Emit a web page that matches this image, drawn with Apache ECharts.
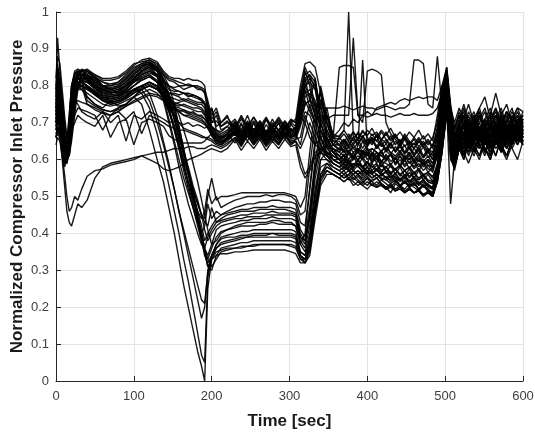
<!DOCTYPE html>
<html>
<head>
<meta charset="utf-8">
<script src="https://cdn.jsdelivr.net/npm/echarts@6/dist/echarts.min.js"></script>
<style>
html, body { margin: 0; padding: 0; background: #fff; }
#chart { width: 535px; height: 432px; }
</style>
</head>
<body>
<div id="chart"></div>
<script>
// time grid [sec], shared by every run
const time = [
  0, 2, 5, 8, 11, 14, 17, 20, 24, 28, 33,
  40, 50, 60, 70, 80, 90, 100, 110, 120, 130,
  138, 145, 152, 158, 164, 170, 176, 182, 187, 191, 195, 200, 206, 212,
  220, 230, 238, 246, 254, 262, 270, 278, 286, 294, 302,
  308, 314, 320, 326, 333, 340, 348, 356,
  364, 370, 376, 382, 388, 394, 400, 406, 412, 418, 424, 430, 436, 442, 448, 454, 460, 466, 472, 478, 484, 490,
  496, 502, 507, 512, 518, 524, 530, 537, 544, 551, 558, 565, 572, 579, 586, 593, 600
];

// normalized compressor inlet pressure, one array per run
// upper runs (stay high until ~195 s)
const u1 = [
  0.80, 0.93, 0.84, 0.74, 0.66, 0.63, 0.70, 0.80, 0.84, 0.845, 0.84,
  0.845, 0.83, 0.815, 0.815, 0.82, 0.835, 0.855, 0.87, 0.875, 0.865,
  0.84, 0.825, 0.82, 0.82, 0.815, 0.82, 0.815, 0.815, 0.81, 0.80, 0.74, 0.70, 0.705, 0.69,
  0.70, 0.69, 0.715, 0.685, 0.705, 0.68, 0.71, 0.69, 0.715, 0.69, 0.70,
  0.71, 0.80, 0.86, 0.865, 0.85, 0.78, 0.68, 0.64,
  0.625, 0.645, 0.615, 0.64, 0.62, 0.65, 0.625, 0.61, 0.64, 0.62, 0.645, 0.615, 0.635, 0.62, 0.64, 0.61, 0.63, 0.615, 0.635, 0.605, 0.62, 0.66,
  0.78, 0.84, 0.72, 0.66, 0.70, 0.72, 0.66, 0.70, 0.73, 0.68, 0.71, 0.67, 0.72, 0.69, 0.66, 0.70, 0.72
];
const u2 = [
  0.75, 0.78, 0.72, 0.66, 0.62, 0.64, 0.72, 0.80, 0.83, 0.84, 0.83,
  0.83, 0.82, 0.81, 0.80, 0.81, 0.83, 0.85, 0.86, 0.865, 0.85,
  0.81, 0.80, 0.795, 0.80, 0.79, 0.795, 0.80, 0.79, 0.79, 0.78, 0.73, 0.69, 0.68, 0.67,
  0.68, 0.705, 0.67, 0.70, 0.675, 0.70, 0.67, 0.695, 0.68, 0.70, 0.675,
  0.69, 0.77, 0.83, 0.84, 0.82, 0.72, 0.66, 0.63,
  0.61, 0.59, 0.625, 0.60, 0.63, 0.605, 0.59, 0.62, 0.60, 0.625, 0.595, 0.615, 0.59, 0.61, 0.595, 0.62, 0.59, 0.605, 0.585, 0.60, 0.58, 0.64,
  0.74, 0.82, 0.68, 0.64, 0.68, 0.66, 0.70, 0.65, 0.68, 0.71, 0.66, 0.69, 0.64, 0.68, 0.70, 0.66, 0.69
];
const u3 = [
  0.70, 0.72, 0.70, 0.65, 0.61, 0.60, 0.66, 0.76, 0.82, 0.835, 0.84,
  0.835, 0.825, 0.80, 0.79, 0.80, 0.82, 0.84, 0.855, 0.86, 0.84,
  0.80, 0.78, 0.78, 0.775, 0.78, 0.77, 0.775, 0.77, 0.76, 0.75, 0.71, 0.68, 0.66, 0.655,
  0.67, 0.69, 0.66, 0.695, 0.665, 0.69, 0.66, 0.69, 0.665, 0.685, 0.67,
  0.675, 0.74, 0.80, 0.82, 0.80, 0.70, 0.64, 0.62,
  0.60, 0.615, 0.59, 0.61, 0.585, 0.605, 0.62, 0.59, 0.61, 0.58, 0.60, 0.615, 0.585, 0.60, 0.58, 0.595, 0.575, 0.59, 0.57, 0.585, 0.565, 0.62,
  0.72, 0.80, 0.66, 0.62, 0.66, 0.70, 0.64, 0.68, 0.66, 0.70, 0.64, 0.67, 0.70, 0.65, 0.68, 0.71, 0.67
];
const u4 = [
  0.72, 0.76, 0.71, 0.64, 0.60, 0.62, 0.69, 0.78, 0.82, 0.83, 0.825,
  0.82, 0.80, 0.79, 0.785, 0.79, 0.80, 0.82, 0.84, 0.85, 0.83,
  0.79, 0.76, 0.75, 0.755, 0.76, 0.755, 0.75, 0.745, 0.74, 0.73, 0.70, 0.67, 0.65, 0.645,
  0.66, 0.685, 0.655, 0.69, 0.66, 0.685, 0.655, 0.68, 0.66, 0.69, 0.665,
  0.67, 0.72, 0.78, 0.79, 0.76, 0.68, 0.63, 0.64,
  0.66, 0.68, 1.00, 0.66, 0.64, 0.665, 0.635, 0.655, 0.63, 0.65, 0.625, 0.645, 0.62, 0.64, 0.615, 0.635, 0.61, 0.63, 0.605, 0.625, 0.60, 0.67,
  0.76, 0.83, 0.70, 0.63, 0.69, 0.65, 0.68, 0.72, 0.65, 0.69, 0.72, 0.66, 0.70, 0.73, 0.67, 0.69, 0.73
];
const u5 = [
  0.68, 0.70, 0.69, 0.63, 0.59, 0.61, 0.67, 0.77, 0.81, 0.82, 0.81,
  0.76, 0.745, 0.735, 0.73, 0.74, 0.75, 0.77, 0.79, 0.80, 0.79,
  0.78, 0.75, 0.74, 0.735, 0.73, 0.725, 0.72, 0.715, 0.71, 0.70, 0.69, 0.665, 0.645, 0.64,
  0.655, 0.68, 0.65, 0.685, 0.655, 0.68, 0.65, 0.675, 0.655, 0.68, 0.66,
  0.665, 0.70, 0.75, 0.76, 0.72, 0.66, 0.62, 0.60,
  0.59, 0.60, 0.615, 0.60, 0.64, 0.87, 0.63, 0.605, 0.62, 0.595, 0.61, 0.585, 0.605, 0.58, 0.60, 0.575, 0.595, 0.57, 0.59, 0.565, 0.58, 0.62,
  0.70, 0.80, 0.64, 0.60, 0.66, 0.62, 0.66, 0.70, 0.64, 0.62, 0.67, 0.70, 0.64, 0.61, 0.66, 0.69, 0.65
];
const u6 = [
  0.66, 0.68, 0.67, 0.62, 0.60, 0.63, 0.70, 0.79, 0.835, 0.84, 0.835,
  0.83, 0.81, 0.80, 0.79, 0.795, 0.81, 0.83, 0.845, 0.855, 0.84,
  0.80, 0.77, 0.765, 0.76, 0.765, 0.76, 0.755, 0.75, 0.75, 0.74, 0.71, 0.685, 0.67, 0.66,
  0.665, 0.70, 0.665, 0.70, 0.67, 0.695, 0.665, 0.69, 0.67, 0.695, 0.675,
  0.68, 0.72, 0.70, 0.66, 0.64, 0.63, 0.64, 0.66,
  0.85, 0.855, 0.855, 0.85, 0.72, 0.70, 0.84, 0.845, 0.84, 0.83, 0.70, 0.67, 0.655, 0.64, 0.66, 0.645, 0.63, 0.65, 0.635, 0.62, 0.64, 0.66,
  0.74, 0.81, 0.70, 0.64, 0.68, 0.72, 0.67, 0.64, 0.69, 0.66, 0.70, 0.74, 0.68, 0.65, 0.70, 0.68, 0.71
];
const u7 = [
  0.74, 0.80, 0.76, 0.67, 0.62, 0.61, 0.64, 0.72, 0.80, 0.83, 0.83,
  0.82, 0.805, 0.79, 0.78, 0.785, 0.80, 0.815, 0.83, 0.84, 0.825,
  0.785, 0.76, 0.745, 0.74, 0.735, 0.73, 0.725, 0.72, 0.715, 0.71, 0.695, 0.675, 0.655, 0.645,
  0.66, 0.675, 0.645, 0.68, 0.65, 0.675, 0.645, 0.67, 0.65, 0.675, 0.655,
  0.66, 0.70, 0.75, 0.76, 0.745, 0.74, 0.74, 0.74,
  0.74, 0.745, 0.74, 0.735, 0.74, 0.745, 0.74, 0.74, 0.735, 0.74, 0.745, 0.74, 0.735, 0.74, 0.74, 0.75, 0.87, 0.87, 0.86, 0.75, 0.74, 0.88,
  0.74, 0.84, 0.72, 0.66, 0.70, 0.67, 0.71, 0.68, 0.72, 0.66, 0.69, 0.72, 0.67, 0.70, 0.73, 0.69, 0.72
];
const u8 = [
  0.70, 0.74, 0.73, 0.66, 0.61, 0.60, 0.65, 0.74, 0.80, 0.82, 0.815,
  0.81, 0.795, 0.78, 0.775, 0.775, 0.785, 0.80, 0.815, 0.825, 0.81,
  0.775, 0.755, 0.75, 0.745, 0.75, 0.745, 0.74, 0.74, 0.735, 0.725, 0.70, 0.68, 0.665, 0.655,
  0.665, 0.69, 0.66, 0.69, 0.66, 0.69, 0.66, 0.685, 0.66, 0.69, 0.665,
  0.67, 0.73, 0.81, 0.83, 0.79, 0.70, 0.65, 0.66,
  0.68, 0.70, 0.69, 0.71, 0.70, 0.72, 0.73, 0.72, 0.74, 0.745, 0.75, 0.755, 0.75, 0.76, 0.765, 0.76, 0.765, 0.77, 0.765, 0.77, 0.77, 0.76,
  0.80, 0.83, 0.74, 0.68, 0.72, 0.69, 0.66, 0.71, 0.74, 0.69, 0.72, 0.78, 0.72, 0.68, 0.71, 0.74, 0.70
];
const u9 = [
  0.78, 0.86, 0.80, 0.70, 0.64, 0.62, 0.68, 0.77, 0.81, 0.825, 0.82,
  0.77, 0.75, 0.735, 0.73, 0.735, 0.745, 0.755, 0.765, 0.775, 0.77,
  0.76, 0.74, 0.735, 0.73, 0.72, 0.715, 0.71, 0.705, 0.70, 0.695, 0.685, 0.665, 0.65, 0.645,
  0.655, 0.67, 0.64, 0.675, 0.645, 0.67, 0.64, 0.665, 0.645, 0.67, 0.65,
  0.655, 0.69, 0.73, 0.72, 0.68, 0.64, 0.61, 0.60,
  0.60, 0.58, 0.595, 0.575, 0.60, 0.58, 0.56, 0.59, 0.57, 0.595, 0.565, 0.585, 0.56, 0.58, 0.555, 0.575, 0.55, 0.57, 0.545, 0.56, 0.54, 0.58,
  0.68, 0.79, 0.65, 0.61, 0.67, 0.71, 0.66, 0.69, 0.73, 0.67, 0.63, 0.68, 0.72, 0.66, 0.69, 0.65, 0.69
];
const u10 = [
  0.69, 0.72, 0.69, 0.64, 0.62, 0.65, 0.72, 0.80, 0.83, 0.84, 0.84,
  0.83, 0.815, 0.80, 0.795, 0.80, 0.815, 0.835, 0.85, 0.86, 0.845,
  0.815, 0.80, 0.79, 0.785, 0.78, 0.78, 0.775, 0.77, 0.765, 0.755, 0.72, 0.69, 0.675, 0.665,
  0.675, 0.70, 0.675, 0.705, 0.68, 0.705, 0.675, 0.70, 0.68, 0.705, 0.68,
  0.685, 0.75, 0.82, 0.83, 0.81, 0.74, 0.67, 0.64,
  0.64, 0.655, 0.635, 0.66, 0.64, 0.665, 0.645, 0.66, 0.635, 0.655, 0.645, 0.665, 0.64, 0.655, 0.635, 0.65, 0.63, 0.655, 0.635, 0.65, 0.63, 0.68,
  0.77, 0.82, 0.71, 0.66, 0.70, 0.74, 0.69, 0.66, 0.70, 0.73, 0.68, 0.71, 0.74, 0.69, 0.66, 0.71, 0.68
];
const u11 = [
  0.72, 0.75, 0.80, 0.76, 0.70, 0.66, 0.64, 0.70, 0.78, 0.80, 0.79,
  0.77, 0.75, 0.74, 0.76, 0.745, 0.75, 0.77, 0.79, 0.80, 0.79,
  0.77, 0.75, 0.74, 0.73, 0.735, 0.725, 0.73, 0.72, 0.72, 0.71, 0.70, 0.74, 0.69, 0.70,
  0.72, 0.665, 0.70, 0.66, 0.70, 0.665, 0.71, 0.67, 0.70, 0.66, 0.70,
  0.69, 0.76, 0.84, 0.80, 0.72, 0.79, 0.70, 0.66,
  0.655, 0.67, 0.65, 0.675, 0.655, 0.68, 0.66, 0.645, 0.67, 0.65, 0.675, 0.655, 0.67, 0.645, 0.665, 0.64, 0.66, 0.645, 0.665, 0.64, 0.66, 0.70,
  0.79, 0.85, 0.75, 0.68, 0.73, 0.69, 0.72, 0.67, 0.71, 0.74, 0.69, 0.72, 0.68, 0.73, 0.70, 0.67, 0.71
];
const u12 = [
  0.82, 0.88, 0.86, 0.79, 0.72, 0.66, 0.62, 0.66, 0.74, 0.80, 0.83,
  0.84, 0.82, 0.80, 0.79, 0.78, 0.79, 0.81, 0.82, 0.83, 0.81,
  0.79, 0.78, 0.775, 0.77, 0.76, 0.765, 0.76, 0.755, 0.755, 0.75, 0.745, 0.70, 0.72, 0.68,
  0.69, 0.71, 0.68, 0.72, 0.675, 0.705, 0.67, 0.71, 0.675, 0.705, 0.68,
  0.68, 0.78, 0.85, 0.82, 0.74, 0.69, 0.72, 0.65,
  0.65, 0.635, 0.66, 0.64, 0.655, 0.63, 0.655, 0.64, 0.665, 0.635, 0.655, 0.63, 0.65, 0.635, 0.655, 0.63, 0.645, 0.625, 0.645, 0.62, 0.64, 0.67,
  0.76, 0.84, 0.73, 0.67, 0.71, 0.75, 0.70, 0.67, 0.72, 0.69, 0.73, 0.70, 0.66, 0.71, 0.74, 0.68, 0.70
];
const u13 = [
  0.77, 0.82, 0.79, 0.72, 0.65, 0.61, 0.63, 0.70, 0.77, 0.82, 0.84,
  0.84, 0.83, 0.82, 0.82, 0.825, 0.84, 0.86, 0.865, 0.87, 0.855,
  0.83, 0.815, 0.81, 0.80, 0.80, 0.805, 0.80, 0.80, 0.795, 0.79, 0.76, 0.72, 0.74, 0.70,
  0.715, 0.685, 0.72, 0.69, 0.715, 0.69, 0.715, 0.685, 0.71, 0.685, 0.71,
  0.70, 0.78, 0.82, 0.76, 0.82, 0.70, 0.74, 0.66,
  0.665, 0.68, 0.66, 0.675, 0.655, 0.675, 0.665, 0.685, 0.66, 0.68, 0.665, 0.685, 0.66, 0.675, 0.655, 0.675, 0.66, 0.68, 0.655, 0.67, 0.65, 0.72,
  0.80, 0.85, 0.74, 0.70, 0.74, 0.71, 0.75, 0.70, 0.74, 0.77, 0.71, 0.74, 0.70, 0.73, 0.71, 0.74, 0.73
];
const u14 = [
  0.74, 0.79, 0.82, 0.77, 0.69, 0.63, 0.61, 0.65, 0.72, 0.79, 0.83,
  0.83, 0.815, 0.80, 0.80, 0.805, 0.82, 0.84, 0.855, 0.865, 0.85,
  0.82, 0.79, 0.785, 0.785, 0.78, 0.775, 0.77, 0.765, 0.76, 0.75, 0.72, 0.74, 0.68, 0.675,
  0.69, 0.665, 0.695, 0.67, 0.70, 0.665, 0.695, 0.67, 0.70, 0.665, 0.695,
  0.68, 0.74, 0.79, 0.74, 0.70, 0.75, 0.66, 0.62,
  0.61, 0.625, 0.60, 0.62, 0.595, 0.625, 0.60, 0.615, 0.59, 0.62, 0.60, 0.615, 0.59, 0.61, 0.585, 0.605, 0.58, 0.60, 0.58, 0.595, 0.575, 0.61,
  0.72, 0.83, 0.68, 0.63, 0.68, 0.65, 0.69, 0.72, 0.67, 0.64, 0.69, 0.66, 0.71, 0.67, 0.70, 0.67, 0.70
];
const u15 = [
  0.79, 0.85, 0.83, 0.75, 0.67, 0.63, 0.65, 0.73, 0.80, 0.835, 0.845,
  0.84, 0.825, 0.81, 0.805, 0.81, 0.825, 0.845, 0.86, 0.87, 0.86,
  0.835, 0.82, 0.815, 0.81, 0.805, 0.80, 0.80, 0.795, 0.79, 0.785, 0.75, 0.71, 0.73, 0.69,
  0.705, 0.68, 0.71, 0.685, 0.715, 0.68, 0.71, 0.685, 0.705, 0.68, 0.705,
  0.70, 0.75, 0.80, 0.81, 0.79, 0.76, 0.72, 0.67,
  0.66, 0.645, 0.67, 0.65, 0.675, 0.655, 0.645, 0.67, 0.65, 0.675, 0.655, 0.64, 0.665, 0.645, 0.67, 0.65, 0.64, 0.66, 0.64, 0.655, 0.635, 0.69,
  0.79, 0.84, 0.73, 0.69, 0.72, 0.69, 0.73, 0.70, 0.66, 0.71, 0.74, 0.69, 0.72, 0.75, 0.70, 0.72, 0.69
];
const u16 = [
  0.73, 0.78, 0.74, 0.67, 0.62, 0.61, 0.65, 0.73, 0.79, 0.81, 0.80,
  0.75, 0.735, 0.725, 0.72, 0.73, 0.745, 0.76, 0.77, 0.78, 0.775,
  0.77, 0.745, 0.735, 0.73, 0.72, 0.72, 0.715, 0.71, 0.705, 0.70, 0.685, 0.67, 0.655, 0.65,
  0.66, 0.68, 0.655, 0.685, 0.66, 0.685, 0.655, 0.68, 0.66, 0.685, 0.66,
  0.67, 0.72, 0.76, 0.73, 0.70, 0.72, 0.71, 0.72,
  0.72, 0.72, 0.72, 0.93, 0.72, 0.72, 0.715, 0.72, 0.725, 0.72, 0.72, 0.715, 0.72, 0.725, 0.72, 0.72, 0.725, 0.72, 0.72, 0.72, 0.725, 0.74,
  0.78, 0.83, 0.70, 0.65, 0.70, 0.67, 0.71, 0.68, 0.72, 0.69, 0.66, 0.70, 0.73, 0.68, 0.72, 0.69, 0.71
];
const u17 = [
  0.72, 0.74, 0.73, 0.68, 0.64, 0.63, 0.67, 0.75, 0.80, 0.82, 0.82,
  0.815, 0.80, 0.785, 0.775, 0.78, 0.795, 0.815, 0.83, 0.84, 0.825,
  0.79, 0.765, 0.755, 0.75, 0.745, 0.74, 0.735, 0.73, 0.73, 0.72, 0.70, 0.69, 0.67, 0.66,
  0.67, 0.695, 0.665, 0.695, 0.665, 0.695, 0.665, 0.69, 0.665, 0.695, 0.67,
  0.675, 0.74, 0.80, 0.77, 0.72, 0.66, 0.68, 0.64,
  0.64, 0.625, 0.65, 0.63, 0.645, 0.62, 0.64, 0.655, 0.63, 0.645, 0.62, 0.64, 0.625, 0.645, 0.62, 0.64, 0.615, 0.635, 0.61, 0.63, 0.61, 0.66,
  0.75, 0.84, 0.71, 0.66, 0.70, 0.73, 0.68, 0.71, 0.68, 0.65, 0.70, 0.73, 0.69, 0.72, 0.68, 0.71, 0.67
];

// lower runs (fall to the 0.36-0.51 plateau)
const l1 = [
  0.76, 0.82, 0.78, 0.69, 0.63, 0.61, 0.66, 0.75, 0.80, 0.82, 0.82,
  0.82, 0.80, 0.785, 0.78, 0.785, 0.80, 0.82, 0.84, 0.85, 0.84,
  0.80, 0.74, 0.68, 0.63, 0.58, 0.54, 0.50, 0.46, 0.44, 0.46, 0.52, 0.48, 0.50, 0.47,
  0.48, 0.49, 0.495, 0.50, 0.50, 0.50, 0.505, 0.50, 0.505, 0.505, 0.50,
  0.49, 0.45, 0.46, 0.58, 0.70, 0.76, 0.70, 0.64,
  0.63, 0.65, 0.64, 0.66, 0.67, 0.66, 0.68, 0.665, 0.675, 0.655, 0.67, 0.65, 0.665, 0.645, 0.66, 0.64, 0.655, 0.635, 0.65, 0.63, 0.62, 0.64,
  0.74, 0.82, 0.69, 0.64, 0.68, 0.65, 0.70, 0.67, 0.64, 0.69, 0.72, 0.66, 0.69, 0.64, 0.68, 0.71, 0.66
];
const l2 = [
  0.72, 0.75, 0.72, 0.66, 0.61, 0.60, 0.65, 0.74, 0.80, 0.82, 0.815,
  0.81, 0.795, 0.78, 0.77, 0.775, 0.79, 0.81, 0.83, 0.84, 0.83,
  0.77, 0.71, 0.65, 0.60, 0.55, 0.51, 0.47, 0.43, 0.40, 0.42, 0.48, 0.44, 0.46, 0.45,
  0.46, 0.47, 0.475, 0.48, 0.48, 0.485, 0.485, 0.49, 0.49, 0.485, 0.485,
  0.48, 0.43, 0.42, 0.52, 0.66, 0.80, 0.72, 0.66,
  0.64, 0.62, 0.625, 0.605, 0.62, 0.60, 0.615, 0.595, 0.61, 0.59, 0.615, 0.595, 0.605, 0.585, 0.61, 0.59, 0.60, 0.58, 0.595, 0.575, 0.57, 0.61,
  0.71, 0.80, 0.66, 0.62, 0.67, 0.64, 0.62, 0.66, 0.69, 0.65, 0.62, 0.67, 0.64, 0.61, 0.65, 0.69, 0.66
];
const l3 = [
  0.68, 0.71, 0.69, 0.63, 0.60, 0.62, 0.68, 0.77, 0.82, 0.835, 0.83,
  0.825, 0.81, 0.795, 0.79, 0.795, 0.81, 0.83, 0.85, 0.86, 0.85,
  0.82, 0.77, 0.71, 0.66, 0.61, 0.56, 0.51, 0.46, 0.42, 0.38, 0.40, 0.42, 0.44, 0.45,
  0.455, 0.46, 0.465, 0.465, 0.47, 0.47, 0.47, 0.475, 0.47, 0.47, 0.47,
  0.465, 0.41, 0.39, 0.47, 0.60, 0.68, 0.64, 0.62,
  0.60, 0.61, 0.595, 0.585, 0.60, 0.58, 0.595, 0.57, 0.585, 0.565, 0.58, 0.56, 0.575, 0.555, 0.57, 0.55, 0.565, 0.545, 0.56, 0.54, 0.535, 0.58,
  0.66, 0.76, 0.65, 0.63, 0.67, 0.64, 0.68, 0.65, 0.69, 0.64, 0.67, 0.70, 0.65, 0.69, 0.66, 0.70, 0.67
];
const l4 = [
  0.74, 0.78, 0.74, 0.67, 0.62, 0.61, 0.64, 0.72, 0.79, 0.81, 0.81,
  0.80, 0.785, 0.77, 0.765, 0.77, 0.78, 0.80, 0.815, 0.825, 0.81,
  0.76, 0.70, 0.64, 0.58, 0.53, 0.48, 0.44, 0.40, 0.37, 0.36, 0.39, 0.41, 0.43, 0.435,
  0.44, 0.445, 0.45, 0.45, 0.455, 0.455, 0.455, 0.46, 0.455, 0.455, 0.455,
  0.45, 0.39, 0.37, 0.44, 0.57, 0.64, 0.62, 0.60,
  0.59, 0.575, 0.59, 0.57, 0.585, 0.565, 0.58, 0.56, 0.575, 0.555, 0.57, 0.55, 0.565, 0.545, 0.56, 0.54, 0.555, 0.535, 0.545, 0.53, 0.525, 0.57,
  0.68, 0.74, 0.48, 0.60, 0.65, 0.69, 0.63, 0.67, 0.64, 0.61, 0.66, 0.69, 0.63, 0.67, 0.70, 0.65, 0.68
];
const l5 = [
  0.66, 0.69, 0.68, 0.62, 0.58, 0.60, 0.67, 0.76, 0.81, 0.83, 0.83,
  0.82, 0.80, 0.79, 0.78, 0.785, 0.80, 0.82, 0.84, 0.855, 0.845,
  0.83, 0.80, 0.75, 0.69, 0.63, 0.57, 0.51, 0.45, 0.40, 0.36, 0.34, 0.37, 0.41, 0.42,
  0.425, 0.43, 0.435, 0.435, 0.44, 0.44, 0.44, 0.445, 0.44, 0.44, 0.44,
  0.435, 0.38, 0.36, 0.42, 0.55, 0.62, 0.61, 0.59,
  0.58, 0.59, 0.575, 0.56, 0.57, 0.555, 0.565, 0.55, 0.56, 0.545, 0.555, 0.54, 0.55, 0.53, 0.545, 0.525, 0.54, 0.52, 0.535, 0.515, 0.51, 0.56,
  0.64, 0.75, 0.60, 0.58, 0.63, 0.66, 0.61, 0.65, 0.68, 0.62, 0.65, 0.61, 0.66, 0.69, 0.64, 0.67, 0.65
];
const l6 = [
  0.71, 0.74, 0.71, 0.65, 0.60, 0.59, 0.63, 0.71, 0.78, 0.80, 0.80,
  0.79, 0.775, 0.76, 0.755, 0.76, 0.77, 0.79, 0.80, 0.81, 0.80,
  0.77, 0.73, 0.68, 0.63, 0.57, 0.52, 0.47, 0.42, 0.38, 0.35, 0.33, 0.36, 0.39, 0.405,
  0.41, 0.415, 0.42, 0.42, 0.42, 0.425, 0.425, 0.43, 0.425, 0.425, 0.425,
  0.42, 0.37, 0.35, 0.40, 0.52, 0.60, 0.60, 0.58,
  0.57, 0.56, 0.57, 0.55, 0.56, 0.545, 0.555, 0.54, 0.55, 0.535, 0.525, 0.51, 0.535, 0.525, 0.54, 0.53, 0.535, 0.52, 0.53, 0.515, 0.505, 0.55,
  0.66, 0.77, 0.64, 0.61, 0.66, 0.63, 0.67, 0.64, 0.61, 0.66, 0.70, 0.65, 0.62, 0.67, 0.64, 0.68, 0.66
];
const l7 = [
  0.77, 0.84, 0.80, 0.70, 0.63, 0.60, 0.64, 0.73, 0.80, 0.82, 0.82,
  0.815, 0.795, 0.775, 0.765, 0.77, 0.785, 0.80, 0.82, 0.83, 0.815,
  0.79, 0.76, 0.71, 0.65, 0.59, 0.53, 0.48, 0.43, 0.38, 0.34, 0.32, 0.34, 0.37, 0.39,
  0.395, 0.40, 0.405, 0.405, 0.41, 0.41, 0.41, 0.41, 0.41, 0.41, 0.41,
  0.405, 0.35, 0.34, 0.38, 0.50, 0.58, 0.59, 0.57,
  0.56, 0.57, 0.55, 0.56, 0.545, 0.535, 0.55, 0.54, 0.53, 0.545, 0.535, 0.525, 0.54, 0.53, 0.52, 0.535, 0.525, 0.515, 0.53, 0.52, 0.51, 0.54,
  0.62, 0.73, 0.63, 0.59, 0.64, 0.61, 0.66, 0.63, 0.67, 0.63, 0.60, 0.65, 0.68, 0.63, 0.66, 0.69, 0.65
];
const l8 = [
  0.73, 0.77, 0.73, 0.66, 0.61, 0.62, 0.69, 0.78, 0.82, 0.83, 0.825,
  0.82, 0.805, 0.79, 0.78, 0.785, 0.80, 0.82, 0.835, 0.845, 0.83,
  0.80, 0.77, 0.73, 0.68, 0.62, 0.56, 0.50, 0.44, 0.39, 0.35, 0.31, 0.33, 0.36, 0.375,
  0.38, 0.385, 0.39, 0.39, 0.395, 0.395, 0.395, 0.40, 0.395, 0.395, 0.395,
  0.39, 0.34, 0.33, 0.37, 0.48, 0.56, 0.58, 0.57,
  0.56, 0.55, 0.56, 0.545, 0.555, 0.54, 0.53, 0.545, 0.55, 0.535, 0.525, 0.535, 0.52, 0.53, 0.515, 0.525, 0.51, 0.52, 0.505, 0.515, 0.50, 0.55,
  0.64, 0.74, 0.62, 0.58, 0.63, 0.60, 0.64, 0.61, 0.65, 0.69, 0.63, 0.66, 0.62, 0.65, 0.68, 0.64, 0.67
];
const l9 = [
  0.69, 0.71, 0.70, 0.64, 0.60, 0.61, 0.66, 0.75, 0.81, 0.83, 0.83,
  0.825, 0.81, 0.795, 0.785, 0.79, 0.805, 0.825, 0.84, 0.85, 0.84,
  0.81, 0.78, 0.74, 0.69, 0.63, 0.57, 0.51, 0.45, 0.40, 0.35, 0.31, 0.30, 0.34, 0.36,
  0.365, 0.37, 0.375, 0.375, 0.38, 0.38, 0.38, 0.38, 0.38, 0.38, 0.38,
  0.375, 0.33, 0.32, 0.35, 0.46, 0.55, 0.57, 0.56,
  0.55, 0.56, 0.545, 0.55, 0.54, 0.53, 0.54, 0.53, 0.525, 0.535, 0.52, 0.53, 0.515, 0.525, 0.51, 0.52, 0.51, 0.515, 0.505, 0.51, 0.50, 0.55,
  0.63, 0.72, 0.63, 0.59, 0.65, 0.62, 0.59, 0.63, 0.66, 0.62, 0.65, 0.68, 0.63, 0.61, 0.65, 0.67, 0.64
];
const l10 = [
  0.79, 0.83, 0.81, 0.73, 0.66, 0.62, 0.61, 0.67, 0.75, 0.79, 0.80,
  0.79, 0.78, 0.76, 0.75, 0.755, 0.765, 0.78, 0.79, 0.80, 0.79,
  0.78, 0.77, 0.75, 0.72, 0.68, 0.64, 0.59, 0.54, 0.49, 0.45, 0.41, 0.37, 0.38, 0.40,
  0.41, 0.42, 0.425, 0.43, 0.43, 0.43, 0.43, 0.435, 0.435, 0.43, 0.43,
  0.42, 0.37, 0.40, 0.52, 0.64, 0.70, 0.65, 0.62,
  0.61, 0.60, 0.62, 0.61, 0.60, 0.615, 0.62, 0.60, 0.61, 0.595, 0.59, 0.58, 0.575, 0.585, 0.57, 0.58, 0.565, 0.575, 0.56, 0.565, 0.555, 0.58,
  0.69, 0.79, 0.65, 0.61, 0.66, 0.63, 0.67, 0.70, 0.65, 0.68, 0.64, 0.69, 0.66, 0.63, 0.67, 0.70, 0.66
];
const l11 = [
  0.73, 0.76, 0.75, 0.70, 0.64, 0.60, 0.62, 0.70, 0.78, 0.81, 0.81,
  0.80, 0.78, 0.765, 0.755, 0.76, 0.77, 0.79, 0.80, 0.81, 0.80,
  0.78, 0.76, 0.72, 0.67, 0.62, 0.57, 0.52, 0.48, 0.45, 0.44, 0.50, 0.55, 0.49, 0.50,
  0.50, 0.505, 0.51, 0.51, 0.51, 0.51, 0.51, 0.51, 0.51, 0.51, 0.505,
  0.50, 0.47, 0.50, 0.62, 0.74, 0.78, 0.70, 0.65,
  0.64, 0.655, 0.63, 0.645, 0.66, 0.65, 0.64, 0.66, 0.65, 0.64, 0.63, 0.645, 0.62, 0.635, 0.615, 0.63, 0.61, 0.625, 0.605, 0.62, 0.60, 0.64,
  0.75, 0.83, 0.70, 0.65, 0.69, 0.72, 0.67, 0.70, 0.66, 0.71, 0.68, 0.72, 0.69, 0.66, 0.70, 0.73, 0.69
];
const l12 = [
  0.76, 0.79, 0.77, 0.70, 0.63, 0.60, 0.61, 0.68, 0.76, 0.80, 0.81,
  0.81, 0.79, 0.775, 0.77, 0.775, 0.79, 0.81, 0.825, 0.835, 0.825,
  0.79, 0.74, 0.69, 0.64, 0.60, 0.56, 0.52, 0.48, 0.45, 0.43, 0.42, 0.47, 0.43, 0.44,
  0.45, 0.455, 0.46, 0.46, 0.46, 0.465, 0.465, 0.465, 0.465, 0.465, 0.46,
  0.455, 0.40, 0.38, 0.45, 0.58, 0.66, 0.63, 0.61,
  0.60, 0.59, 0.60, 0.58, 0.59, 0.58, 0.595, 0.58, 0.59, 0.57, 0.58, 0.565, 0.575, 0.56, 0.57, 0.555, 0.565, 0.55, 0.56, 0.545, 0.54, 0.58,
  0.68, 0.78, 0.63, 0.59, 0.64, 0.61, 0.65, 0.62, 0.67, 0.63, 0.60, 0.65, 0.62, 0.66, 0.63, 0.60, 0.65
];
const l13 = [
  0.68, 0.70, 0.70, 0.66, 0.62, 0.60, 0.63, 0.70, 0.77, 0.80, 0.81,
  0.80, 0.78, 0.76, 0.755, 0.76, 0.77, 0.785, 0.80, 0.81, 0.795,
  0.77, 0.73, 0.69, 0.64, 0.59, 0.54, 0.49, 0.44, 0.40, 0.36, 0.33, 0.31, 0.33, 0.35,
  0.355, 0.36, 0.36, 0.365, 0.37, 0.37, 0.37, 0.37, 0.37, 0.37, 0.37,
  0.365, 0.34, 0.32, 0.36, 0.46, 0.54, 0.57, 0.56,
  0.55, 0.54, 0.55, 0.53, 0.54, 0.53, 0.52, 0.535, 0.525, 0.53, 0.52, 0.525, 0.515, 0.52, 0.51, 0.52, 0.51, 0.515, 0.505, 0.51, 0.50, 0.54,
  0.62, 0.73, 0.61, 0.58, 0.63, 0.60, 0.65, 0.62, 0.66, 0.63, 0.61, 0.66, 0.64, 0.67, 0.63, 0.66, 0.64
];
const l14 = [
  0.70, 0.74, 0.74, 0.69, 0.63, 0.61, 0.62, 0.69, 0.77, 0.80, 0.80,
  0.795, 0.775, 0.76, 0.75, 0.755, 0.765, 0.78, 0.795, 0.805, 0.79,
  0.77, 0.75, 0.71, 0.67, 0.62, 0.58, 0.53, 0.49, 0.45, 0.41, 0.38, 0.40, 0.42, 0.43,
  0.435, 0.44, 0.44, 0.445, 0.445, 0.445, 0.45, 0.45, 0.45, 0.45, 0.45,
  0.445, 0.39, 0.38, 0.45, 0.58, 0.63, 0.61, 0.59,
  0.58, 0.57, 0.58, 0.57, 0.56, 0.57, 0.56, 0.55, 0.56, 0.55, 0.545, 0.535, 0.545, 0.53, 0.54, 0.525, 0.535, 0.52, 0.53, 0.515, 0.51, 0.55,
  0.66, 0.76, 0.64, 0.61, 0.66, 0.63, 0.67, 0.70, 0.65, 0.68, 0.64, 0.67, 0.65, 0.68, 0.71, 0.66, 0.68
];

// deepest runs (dip towards 0 near 190 s)
const d1 = [
  0.70, 0.73, 0.70, 0.64, 0.60, 0.59, 0.62, 0.70, 0.77, 0.79, 0.79,
  0.78, 0.765, 0.75, 0.745, 0.75, 0.76, 0.77, 0.75, 0.68, 0.60,
  0.54, 0.47, 0.40, 0.33, 0.26, 0.20, 0.14, 0.08, 0.04, 0.00, 0.25, 0.33, 0.35, 0.355,
  0.36, 0.36, 0.365, 0.365, 0.365, 0.37, 0.37, 0.37, 0.37, 0.37, 0.365,
  0.36, 0.33, 0.33, 0.36, 0.46, 0.55, 0.58, 0.57,
  0.56, 0.55, 0.56, 0.57, 0.56, 0.55, 0.56, 0.57, 0.56, 0.55, 0.545, 0.555, 0.54, 0.55, 0.535, 0.545, 0.53, 0.54, 0.525, 0.535, 0.52, 0.56,
  0.65, 0.76, 0.64, 0.60, 0.66, 0.63, 0.67, 0.64, 0.61, 0.65, 0.69, 0.64, 0.67, 0.63, 0.66, 0.70, 0.66
];
const d2 = [
  0.67, 0.69, 0.67, 0.62, 0.59, 0.61, 0.67, 0.76, 0.80, 0.81, 0.81,
  0.80, 0.785, 0.77, 0.765, 0.77, 0.78, 0.79, 0.78, 0.74, 0.67,
  0.60, 0.53, 0.46, 0.40, 0.33, 0.27, 0.20, 0.13, 0.07, 0.05, 0.28, 0.33, 0.34, 0.345,
  0.345, 0.35, 0.35, 0.352, 0.355, 0.355, 0.355, 0.355, 0.355, 0.355, 0.35,
  0.345, 0.32, 0.32, 0.34, 0.44, 0.53, 0.56, 0.56,
  0.55, 0.54, 0.55, 0.54, 0.53, 0.54, 0.55, 0.53, 0.54, 0.53, 0.52, 0.53, 0.515, 0.525, 0.51, 0.52, 0.51, 0.515, 0.50, 0.51, 0.50, 0.54,
  0.62, 0.74, 0.61, 0.57, 0.63, 0.67, 0.62, 0.65, 0.63, 0.67, 0.64, 0.61, 0.66, 0.69, 0.64, 0.67, 0.65
];
const d3 = [
  0.75, 0.80, 0.77, 0.68, 0.62, 0.60, 0.63, 0.71, 0.78, 0.80, 0.80,
  0.795, 0.78, 0.765, 0.76, 0.765, 0.775, 0.79, 0.80, 0.78, 0.72,
  0.65, 0.59, 0.52, 0.46, 0.40, 0.34, 0.28, 0.22, 0.17, 0.20, 0.30, 0.34, 0.37, 0.385,
  0.39, 0.39, 0.395, 0.395, 0.40, 0.40, 0.40, 0.40, 0.40, 0.40, 0.40,
  0.395, 0.35, 0.34, 0.39, 0.50, 0.60, 0.62, 0.60,
  0.59, 0.60, 0.58, 0.59, 0.58, 0.57, 0.58, 0.565, 0.57, 0.56, 0.565, 0.55, 0.56, 0.545, 0.555, 0.54, 0.55, 0.535, 0.545, 0.53, 0.525, 0.57,
  0.67, 0.78, 0.63, 0.59, 0.64, 0.61, 0.66, 0.63, 0.60, 0.65, 0.62, 0.66, 0.63, 0.60, 0.64, 0.68, 0.64
];
const d4 = [
  0.71, 0.73, 0.72, 0.66, 0.61, 0.60, 0.64, 0.72, 0.79, 0.81, 0.81,
  0.80, 0.785, 0.77, 0.76, 0.765, 0.775, 0.79, 0.79, 0.76, 0.70,
  0.64, 0.58, 0.52, 0.46, 0.41, 0.36, 0.31, 0.26, 0.22, 0.21, 0.29, 0.34, 0.36, 0.37,
  0.375, 0.38, 0.385, 0.39, 0.39, 0.39, 0.39, 0.39, 0.39, 0.39, 0.39,
  0.385, 0.34, 0.33, 0.37, 0.47, 0.56, 0.59, 0.58,
  0.57, 0.58, 0.57, 0.56, 0.57, 0.56, 0.57, 0.56, 0.55, 0.56, 0.55, 0.545, 0.555, 0.54, 0.55, 0.535, 0.545, 0.53, 0.54, 0.525, 0.52, 0.56,
  0.65, 0.75, 0.63, 0.60, 0.64, 0.67, 0.63, 0.66, 0.69, 0.64, 0.67, 0.63, 0.65, 0.69, 0.65, 0.68, 0.66
];

// runs that sit low (0.55-0.72) between 30 and 200 s
const m1 = [
  0.66, 0.68, 0.66, 0.60, 0.53, 0.46, 0.43, 0.42, 0.45, 0.48, 0.47,
  0.49, 0.55, 0.58, 0.59, 0.595, 0.60, 0.605, 0.61, 0.615, 0.62,
  0.62, 0.625, 0.63, 0.63, 0.63, 0.635, 0.635, 0.63, 0.63, 0.63, 0.635, 0.64, 0.635, 0.63,
  0.64, 0.66, 0.635, 0.665, 0.64, 0.66, 0.635, 0.655, 0.64, 0.665, 0.645,
  0.65, 0.60, 0.56, 0.58, 0.62, 0.63, 0.62, 0.61,
  0.60, 0.61, 0.59, 0.60, 0.61, 0.60, 0.58, 0.595, 0.60, 0.585, 0.58, 0.59, 0.57, 0.585, 0.57, 0.58, 0.56, 0.575, 0.555, 0.565, 0.55, 0.59,
  0.69, 0.79, 0.64, 0.60, 0.65, 0.69, 0.64, 0.67, 0.70, 0.66, 0.63, 0.68, 0.71, 0.66, 0.69, 0.65, 0.68
];
const m2 = [
  0.64, 0.66, 0.65, 0.61, 0.56, 0.50, 0.46, 0.47, 0.50, 0.49, 0.52,
  0.555, 0.57, 0.575, 0.585, 0.59, 0.595, 0.60, 0.61, 0.60, 0.59,
  0.575, 0.57, 0.575, 0.58, 0.59, 0.60, 0.605, 0.61, 0.615, 0.62, 0.625, 0.63, 0.625, 0.62,
  0.63, 0.655, 0.625, 0.65, 0.63, 0.655, 0.625, 0.65, 0.63, 0.655, 0.635,
  0.64, 0.58, 0.55, 0.57, 0.61, 0.62, 0.60, 0.59,
  0.58, 0.59, 0.57, 0.58, 0.59, 0.58, 0.57, 0.56, 0.575, 0.565, 0.55, 0.56, 0.55, 0.545, 0.555, 0.54, 0.55, 0.535, 0.545, 0.53, 0.52, 0.56,
  0.66, 0.77, 0.63, 0.59, 0.65, 0.61, 0.65, 0.69, 0.63, 0.66, 0.61, 0.65, 0.63, 0.67, 0.64, 0.68, 0.66
];
const m3 = [
  0.71, 0.74, 0.71, 0.65, 0.61, 0.60, 0.63, 0.68, 0.70, 0.72, 0.71,
  0.70, 0.69, 0.72, 0.66, 0.70, 0.71, 0.64, 0.70, 0.71, 0.70,
  0.69, 0.665, 0.655, 0.65, 0.645, 0.645, 0.645, 0.645, 0.645, 0.65, 0.66, 0.67, 0.66, 0.65,
  0.655, 0.675, 0.65, 0.68, 0.655, 0.675, 0.65, 0.67, 0.655, 0.675, 0.66,
  0.665, 0.71, 0.77, 0.78, 0.75, 0.68, 0.64, 0.63,
  0.62, 0.61, 0.625, 0.63, 0.62, 0.61, 0.625, 0.63, 0.62, 0.61, 0.60, 0.615, 0.605, 0.62, 0.60, 0.61, 0.595, 0.61, 0.59, 0.60, 0.59, 0.62,
  0.72, 0.81, 0.67, 0.62, 0.67, 0.64, 0.68, 0.71, 0.66, 0.69, 0.65, 0.70, 0.67, 0.64, 0.69, 0.72, 0.68
];
const m4 = [
  0.69, 0.71, 0.68, 0.63, 0.62, 0.64, 0.68, 0.74, 0.76, 0.75, 0.73,
  0.72, 0.71, 0.73, 0.70, 0.72, 0.65, 0.72, 0.71, 0.73, 0.72,
  0.71, 0.70, 0.705, 0.70, 0.695, 0.70, 0.69, 0.695, 0.69, 0.685, 0.69, 0.675, 0.665, 0.66,
  0.67, 0.645, 0.68, 0.65, 0.685, 0.655, 0.68, 0.65, 0.68, 0.655, 0.685,
  0.67, 0.64, 0.70, 0.75, 0.70, 0.64, 0.66, 0.62,
  0.63, 0.62, 0.635, 0.62, 0.63, 0.615, 0.63, 0.62, 0.61, 0.625, 0.63, 0.62, 0.61, 0.625, 0.605, 0.62, 0.60, 0.615, 0.595, 0.61, 0.59, 0.63,
  0.73, 0.82, 0.69, 0.65, 0.69, 0.66, 0.70, 0.73, 0.68, 0.65, 0.70, 0.67, 0.71, 0.68, 0.65, 0.69, 0.71
];
const m5 = [
  0.66, 0.67, 0.66, 0.63, 0.61, 0.62, 0.66, 0.70, 0.72, 0.74, 0.735,
  0.73, 0.72, 0.68, 0.72, 0.73, 0.71, 0.73, 0.67, 0.72, 0.71,
  0.70, 0.69, 0.685, 0.68, 0.68, 0.675, 0.67, 0.665, 0.66, 0.66, 0.655, 0.65, 0.64, 0.635,
  0.645, 0.66, 0.64, 0.665, 0.64, 0.665, 0.64, 0.66, 0.645, 0.665, 0.64,
  0.65, 0.63, 0.66, 0.70, 0.66, 0.62, 0.64, 0.60,
  0.59, 0.60, 0.585, 0.58, 0.59, 0.575, 0.59, 0.58, 0.57, 0.585, 0.57, 0.56, 0.575, 0.56, 0.55, 0.565, 0.55, 0.545, 0.555, 0.54, 0.535, 0.57,
  0.66, 0.77, 0.66, 0.62, 0.67, 0.64, 0.68, 0.65, 0.69, 0.65, 0.68, 0.64, 0.67, 0.70, 0.66, 0.69, 0.67
];
const m6 = [
  0.70, 0.72, 0.71, 0.67, 0.64, 0.62, 0.66, 0.73, 0.75, 0.76, 0.755,
  0.75, 0.74, 0.73, 0.72, 0.74, 0.75, 0.77, 0.78, 0.79, 0.78,
  0.76, 0.74, 0.72, 0.70, 0.685, 0.68, 0.675, 0.67, 0.665, 0.66, 0.66, 0.655, 0.645, 0.64,
  0.65, 0.67, 0.64, 0.67, 0.645, 0.67, 0.64, 0.665, 0.64, 0.67, 0.645,
  0.655, 0.66, 0.72, 0.68, 0.64, 0.66, 0.61, 0.63,
  0.62, 0.635, 0.62, 0.61, 0.63, 0.62, 0.61, 0.63, 0.62, 0.61, 0.625, 0.61, 0.60, 0.615, 0.61, 0.60, 0.61, 0.595, 0.60, 0.585, 0.58, 0.63,
  0.71, 0.81, 0.66, 0.62, 0.66, 0.70, 0.65, 0.68, 0.65, 0.69, 0.66, 0.70, 0.67, 0.71, 0.67, 0.64, 0.68
];

const runs = [
  u1, u2, u3, u4, u5, u6, u7, u8, u9, u10, u11, u12, u13, u14, u15, u16, u17,
  l1, l2, l3, l4, l5, l6, l7, l8, l9, l10, l11, l12, l13, l14,
  d1, d2, d3, d4,
  m1, m2, m3, m4, m5, m6
];

const xTicks = { min: 0, max: 600, step: 100 };
const yTicks = { min: 0, max: 1, step: 0.1 };

const font = "'Liberation Sans', Arial, sans-serif";
const axisColor = '#262626';

let myChart = echarts.init(document.getElementById('chart'));
myChart.setOption({
  animation: false,
  backgroundColor: '#fff',
  grid: { left: 56, right: 12, top: 12, bottom: 51, containLabel: false, outerBoundsMode: 'none' },
  xAxis: {
    type: 'value',
    min: xTicks.min,
    max: xTicks.max,
    interval: xTicks.step,
    name: 'Time [sec]',
    nameLocation: 'middle',
    nameGap: 32,
    nameMoveOverlap: false,
    nameTextStyle: { fontFamily: font, fontSize: 17, fontWeight: 'bold', color: '#1a1a1a' },
    axisLine: { onZero: false, lineStyle: { color: axisColor, width: 1 } },
    axisTick: { inside: true, length: 5, lineStyle: { color: axisColor } },
    axisLabel: { margin: 9, fontFamily: font, fontSize: 13, color: '#404040' },
    splitLine: { show: true, lineStyle: { color: '#e3e3e3', width: 1 } }
  },
  yAxis: {
    type: 'value',
    min: yTicks.min,
    max: yTicks.max,
    interval: yTicks.step,
    name: 'Normalized Compressor Inlet Pressure',
    nameLocation: 'middle',
    nameGap: 30,
    nameMoveOverlap: false,
    nameTextStyle: { fontFamily: font, fontSize: 17, fontWeight: 'bold', color: '#1a1a1a' },
    axisLine: { show: true, lineStyle: { color: axisColor, width: 1 } },
    axisTick: { show: true, inside: true, length: 5, lineStyle: { color: axisColor } },
    axisLabel: { margin: 7, fontFamily: font, fontSize: 13, color: '#404040' },
    splitLine: { show: true, lineStyle: { color: '#e3e3e3', width: 1 } }
  },
  series: runs.map(function (run) {
    return {
      type: 'line',
      data: time.map(function (t, i) { return [t, run[i]]; }),
      symbol: 'none',
      silent: true,
      lineStyle: { color: '#000', width: 1.4, opacity: 0.9 }
    };
  })
});
</script>
</body>
</html>
